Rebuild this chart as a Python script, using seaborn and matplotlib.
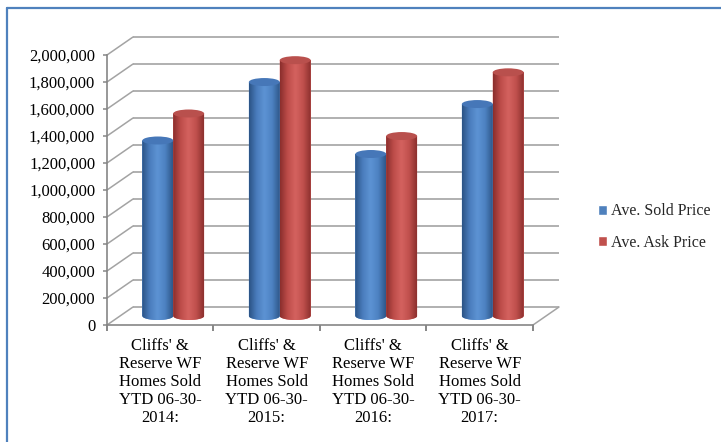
import numpy as np
import pandas as pd
import matplotlib
matplotlib.use("Agg")
import matplotlib.pyplot as plt
from matplotlib.patches import Ellipse, Polygon
from matplotlib.lines import Line2D
from matplotlib.colors import LinearSegmentedColormap
import seaborn as sns

# ---- data -------------------------------------------------------------
categories = [
    "Cliffs' &\nReserve WF\nHomes Sold\nYTD 06-30-\n2014:",
    "Cliffs' &\nReserve WF\nHomes Sold\nYTD 06-30-\n2015:",
    "Cliffs' &\nReserve WF\nHomes Sold\nYTD 06-30-\n2016:",
    "Cliffs' &\nReserve WF\nHomes Sold\nYTD 06-30-\n2017:",
]
series_names = ["Ave. Sold Price", "Ave. Ask Price"]
sold_price = [1300000, 1733000, 1200000, 1570000]
ask_price = [1500000, 1895000, 1333000, 1805000]
y_ticks = [0, 200000, 400000, 600000, 800000, 1000000,
           1200000, 1400000, 1600000, 1800000, 2000000]
y_tick_labels = ["0", "200,000", "400,000", "600,000", "800,000", "1,000,000",
                 "1,200,000", "1,400,000", "1,600,000", "1,800,000", "2,000,000"]

# ---- style ------------------------------------------------------------
sns.set_theme(style="white")
plt.rcParams["font.family"] = ["Liberation Serif", "DejaVu Serif"]

W, H, DPI = 721, 442, 100
fig = plt.figure(figsize=(W / DPI, H / DPI), dpi=DPI)
fig.patch.set_facecolor("white")

# front plane of the pseudo-3D box
ax = fig.add_axes([107 / W, 1 - 325 / H, 426 / W, 270 / H])
ax.set_facecolor("none")

df = pd.DataFrame({
    "category": categories * 2,
    "series": [s for s in series_names for _ in categories],
    "value": sold_price + ask_price,
})
base = {"Ave. Sold Price": "#4f81bd", "Ave. Ask Price": "#c0504d"}

sns.barplot(data=df, x="category", y="value", hue="series",
            order=categories, hue_order=series_names, palette=base,
            width=0.58, saturation=1, errorbar=None, ax=ax, zorder=2)

YMAX = 2000000
ax.set_xlim(-0.5, 3.5)
ax.set_ylim(0, YMAX)

# depth of the box expressed in data units (26 px right, 18 px up)
px_x = 4 / 426.0
px_y = YMAX / 270.0
DX, DY = 26 * px_x, 18 * px_y
EH = 8 * px_y  # cylinder cap height

grid_c = "#a3a3a3"
axis_c = "#868686"

# back wall gridlines and left side-wall connectors
for y in y_ticks:
    ax.plot([-0.5 + DX, 3.5 + DX], [y + DY, y + DY], color=grid_c, lw=1.2,
            clip_on=False, zorder=0.5, solid_capstyle="butt")
    ax.plot([-0.5, -0.5 + DX], [y, y + DY], color=grid_c, lw=1.1,
            clip_on=False, zorder=0.5)
ax.plot([3.5, 3.5 + DX], [0, DY], color=grid_c, lw=1.1, clip_on=False, zorder=0.5)

# cylinder shading
grads = {
    "Ave. Sold Price": (["#2b5385", "#4a7dbd", "#5d93d4", "#4d82c2", "#2e5789"],
                        "#4677b8"),
    "Ave. Ask Price": (["#8a2e2c", "#be4d4a", "#d4625f", "#c0504d", "#8c302e"],
                       "#b9504d"),
}
ramp = np.linspace(0, 1, 200)
for name, container in zip(series_names, ax.containers):
    stops, cap_c = grads[name]
    cmap = LinearSegmentedColormap.from_list(name, stops)
    img = cmap(ramp)[None, :, :]
    for bar in container:
        x0 = bar.get_x() + DX / 2
        y0 = DY / 2
        w = bar.get_width()
        h = bar.get_height()
        bar.set_x(x0)
        bar.set_y(y0)
        bar.set_clip_on(False)
        bar.set_linewidth(0)
        # body outline: rectangle with a rounded (half-ellipse) bottom
        t = np.linspace(np.pi, 2 * np.pi, 40)
        bottom = np.column_stack([x0 + w / 2 + (w / 2) * np.cos(t),
                                  y0 + (EH / 2) * np.sin(t)])
        pts = np.vstack([[x0, y0 + h], bottom, [x0 + w, y0 + h]])
        body = Polygon(pts, closed=True, facecolor=stops[2], edgecolor="none",
                       zorder=2.5)
        ax.add_patch(body)
        im = ax.imshow(img, extent=[x0, x0 + w, y0 - EH / 2, y0 + h],
                       aspect="auto", interpolation="bicubic", zorder=3)
        im.set_clip_path(body)
        ax.add_patch(Ellipse((x0 + w / 2, y0 + h), w, EH, facecolor=cap_c,
                             edgecolor="none", zorder=4, clip_on=False))

ax.set_xlim(-0.5, 3.5)
ax.set_ylim(0, YMAX)

# axes, ticks and labels
sns.despine(ax=ax)
for side in ("left", "bottom"):
    ax.spines[side].set_color(axis_c)
    ax.spines[side].set_linewidth(1.2)
ax.set_xlabel("")
ax.set_ylabel("")
ax.set_yticks(y_ticks)
ax.set_yticklabels(y_tick_labels)
ax.tick_params(axis="y", left=True, length=3, width=1.1, color=axis_c,
               pad=5.5, labelsize=12, labelcolor="black")
ax.set_xticks(range(len(categories)))
ax.set_xticklabels(categories)
ax.set_xticks([-0.5, 0.5, 1.5, 2.5, 3.5], minor=True)
ax.tick_params(axis="x", which="major", bottom=True, length=0, pad=9,
               labelsize=12, labelcolor="black")
ax.tick_params(axis="x", which="minor", bottom=True, length=4, width=1.4,
               color=axis_c, direction="out")
for t in ax.get_xticklabels():
    t.set_linespacing(1.18)

# legend on the right
sns.move_legend(ax, loc="center left", bbox_to_anchor=(584 / W, 1 - 227 / H),
                bbox_transform=fig.transFigure, frameon=False, title=None,
                fontsize=11.5, handlelength=0.55, handleheight=0.55,
                handletextpad=0.25, labelspacing=0.95)

# chart-area border (left and top)
fig.add_artist(Line2D([7 / W, 7 / W], [0, 1 - 8 / H], color="#4f81bd", lw=1.6,
                      transform=fig.transFigure))
fig.add_artist(Line2D([7 / W, 1], [1 - 8 / H, 1 - 8 / H], color="#4f81bd",
                      lw=1.6, transform=fig.transFigure))

fig.savefig("out.png", dpi=DPI)
